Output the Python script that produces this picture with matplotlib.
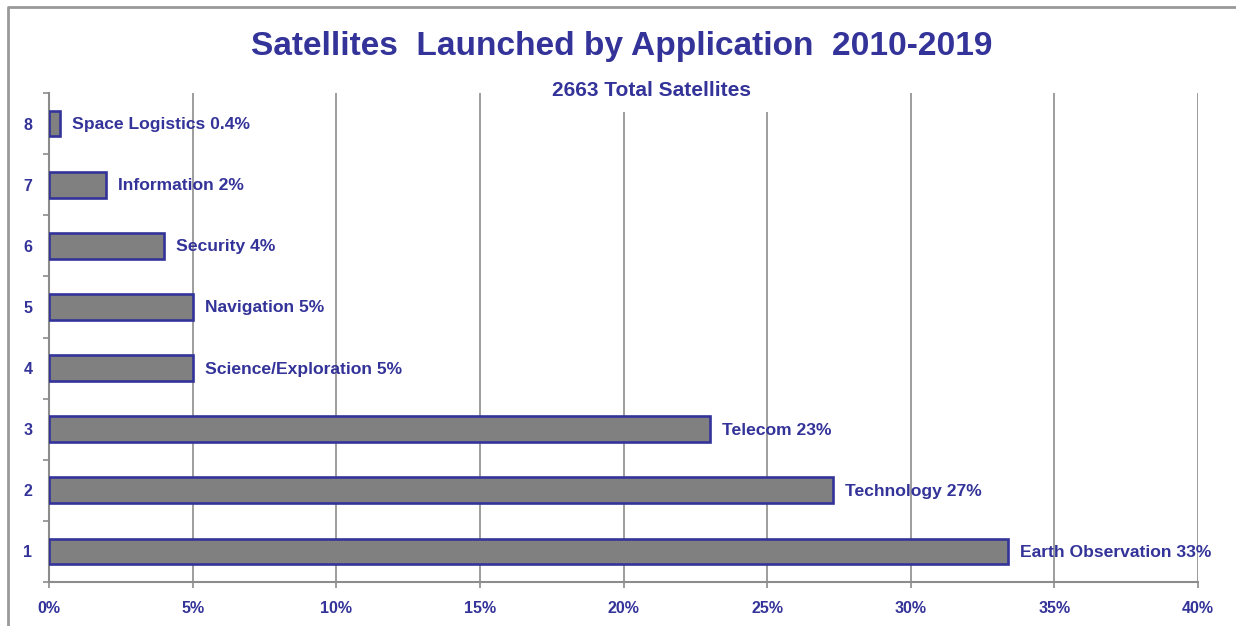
import matplotlib
matplotlib.use("Agg")
import matplotlib.pyplot as plt
from matplotlib.lines import Line2D
from matplotlib.patches import Rectangle

# Share of satellites launched 2010-2019, by application (percent)
applications = ["Earth Observation", "Technology", "Telecom", "Science/Exploration",
                "Navigation", "Security", "Information", "Space Logistics"]
shares = [33.4, 27.3, 23.0, 5.0, 5.0, 4.0, 2.0, 0.4]
positions = [1, 2, 3, 4, 5, 6, 7, 8]
x_ticks = [0, 5, 10, 15, 20, 25, 30, 35, 40]
total_satellites = 2663

INK = "#333399"
GRID = "#8c8c8c"
plain = "Liberation Sans"

W, H = 1236, 626
fig = plt.figure(figsize=(W / 100, H / 100), dpi=100)
fig.patch.set_facecolor("white")

# axes box in pixels: left 49, right 1198, top 93, bottom 582
ax = fig.add_axes([49 / W, 1 - 582 / H, (1198 - 49) / W, (582 - 93) / H])
ax.set_xlim(0, 40)
ax.set_ylim(0.5, 8.5)

ax.barh(positions, shares, height=0.42, color="#808080", edgecolor=INK,
        linewidth=1.9, zorder=3)

def pct_label(v):
    return f"{v:.1f}%" if v < 1 else f"{v:.0f}%"

for y, v, name in zip(positions, shares, applications):
    ax.annotate(f"{name} {pct_label(v)}", xy=(v, y), xytext=(12, -1),
                textcoords="offset pixels",
                va="center", ha="left", fontsize=12.6, fontweight="bold",
                color=INK, family=plain, zorder=4)

ax.set_xticks(x_ticks)
ax.set_xticklabels([f"{t}%" for t in x_ticks])
ax.set_yticks(positions)
ax.set_yticklabels([str(p) for p in positions])
ax.set_yticks([p + 0.5 for p in [0] + positions], minor=True)

ax.xaxis.grid(True, color=GRID, linewidth=1.2, zorder=0)
ax.set_axisbelow(True)
for s in ("top", "right"):
    ax.spines[s].set_visible(False)
for s in ("left", "bottom"):
    ax.spines[s].set_color(GRID)
    ax.spines[s].set_linewidth(1.5)

ax.tick_params(axis="x", length=4, width=1.2, color=GRID, pad=10,
               labelsize=11.5, labelcolor=INK)
ax.tick_params(axis="y", which="major", length=0, pad=12,
               labelsize=11.5, labelcolor=INK)
ax.tick_params(axis="y", which="minor", length=4, width=1.2, color=GRID)
for lab in ax.get_xticklabels() + ax.get_yticklabels():
    lab.set_fontweight("bold")
    lab.set_family(plain)

# white box behind the subtitle hides the grid lines there
fig.patches.append(Rectangle((540 / W, 1 - 112 / H), (775 - 540) / W, (112 - 76) / H,
                             transform=fig.transFigure, facecolor="white",
                             edgecolor="none", zorder=5))
fig.text(651 / W, 1 - 91 / H, f"{total_satellites} Total Satellites",
         ha="center", va="center", fontsize=15, fontweight="bold",
         color=INK, family=plain, zorder=6)

title = fig.text(622 / W, 1 - 55 / H, "Satellites  Launched by Application  2010-2019",
                 ha="center", va="baseline", fontsize=24, fontweight="bold",
                 family=plain, color=INK)

# size the headline so it spans about 745 px
renderer = fig.canvas.get_renderer()
width_px = title.get_window_extent(renderer).width
title.set_fontsize(24 * 745 / width_px)

# outer chart frame (top and left edges)
fig.lines.append(Line2D([8 / W, 8 / W, 1.0], [0.0, 1 - 7 / H, 1 - 7 / H],
                        transform=fig.transFigure, color="#999999", linewidth=2))

fig.savefig("out.png", dpi=100, facecolor="white")
